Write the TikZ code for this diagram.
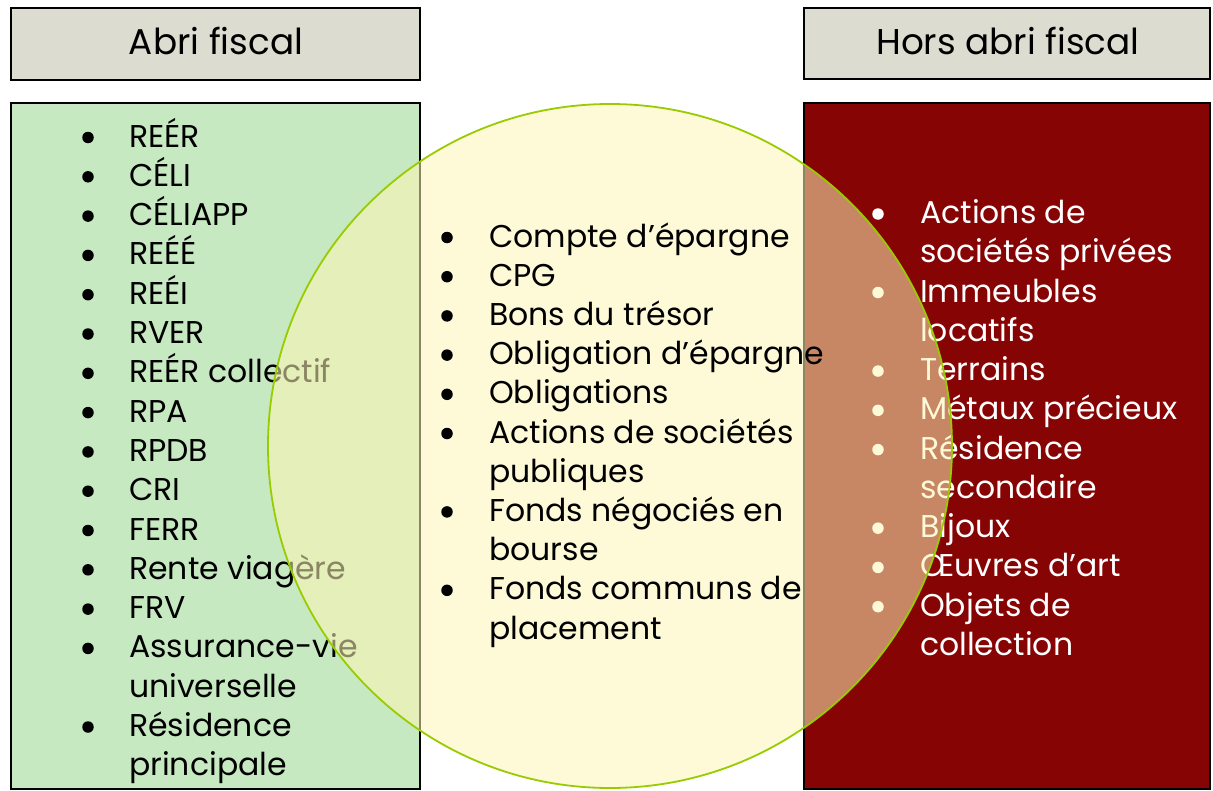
\documentclass[tikz,border=0pt]{standalone}
\usepackage{fontspec}
\setmainfont{Poppins}
\definecolor{hdrfill}{HTML}{DDDCD0}
\definecolor{greenfill}{HTML}{C7E9C1}
\definecolor{redfill}{HTML}{870404}
\definecolor{circfill}{HTML}{FDF4B6}
\definecolor{circline}{HTML}{99CC00}
\tikzset{
  hdrbox/.style={draw=black, line width=1.6bp, fill=hdrfill},
  listbox/.style={draw=black, line width=1.6bp},
  hdrtxt/.style={inner sep=0pt, anchor=base, font=\fontsize{35.8bp}{40bp}\selectfont},
  itemtxt/.style={inner sep=0pt, anchor=base west, font=\fontsize{31.5bp}{36bp}\selectfont},
  bul/.style={circle, inner sep=0pt, minimum size=11.5bp},
}
\begin{document}
\begin{tikzpicture}[x=1bp, y=-1bp]
\useasboundingbox (0,0) rectangle (1213,791);
% header boxes
\draw[hdrbox] (11,8) rectangle (420,80);
\draw[hdrbox] (804,8) rectangle (1210,79);
\node[hdrtxt] (hl) at (216,55) {Abri fiscal};
\node[hdrtxt] (hr) at (1008,55) {Hors abri fiscal};
% list boxes
\draw[listbox, fill=greenfill] (11,103) rectangle (420,789);
\draw[listbox, fill=redfill] (804,103) rectangle (1210,789);
% left list
\foreach \t [count=\i] in {REÉR,CÉLI,CÉLIAPP,REÉÉ,REÉI,RVER,REÉR collectif,RPA,RPDB,CRI,FERR,Rente viagère,FRV,Assurance-vie,universelle,Résidence,principale}
  \node[itemtxt, text=black] (L\i) at (129,{147+39.3*(\i-1)}) {\t};
\foreach \i in {1,...,14,16}
  \node[bul, fill=black] (LB\i) at (88,{137.5+39.3*(\i-1)}) {};
% right list
\foreach \t [count=\i] in {Actions de,sociétés privées,Immeubles,locatifs,Terrains,Métaux précieux,Résidence,secondaire,Bijoux,Œuvres d’art,Objets de,collection}
  \node[itemtxt, text=white] (R\i) at (920,{223.5+39.27*(\i-1)}) {\t};
\foreach \i in {1,3,5,6,7,9,10,11}
  \node[bul, fill=white] (RB\i) at (878,{214+39.27*(\i-1)}) {};
% circle
\node[circle, minimum size=684bp, inner sep=0pt, draw=circline, line width=1.8bp, fill=circfill, fill opacity=0.55] (circ) at (610,446) {};
% middle list
\foreach \t [count=\i] in {Compte d’épargne,CPG,Bons du trésor,Obligation d’épargne,Obligations,Actions de sociétés,publiques,Fonds négociés en,bourse,Fonds communs de,placement}
  \node[itemtxt, text=black] (M\i) at (489,{247+39.2*(\i-1)}) {\t};
\foreach \i in {1,2,3,4,5,6,8,10}
  \node[bul, fill=black] (MB\i) at (447,{237.5+39.2*(\i-1)}) {};
\end{tikzpicture}
\end{document}
